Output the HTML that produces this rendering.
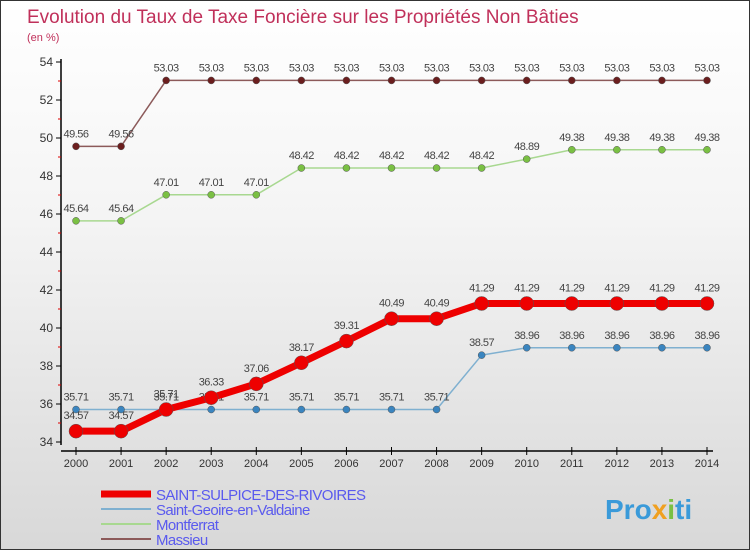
<!DOCTYPE html>
<html><head><meta charset="utf-8"><style>
body{margin:0}
#wrap{width:748px;height:548px;border:1px solid #333;position:relative;background:linear-gradient(#fff 0%,#f4f4f4 40%,#d8d8d8 100%);font-family:"Liberation Sans",sans-serif;overflow:hidden}
svg{position:absolute;left:0;top:0}
</style></head><body>
<div id="wrap">
<svg id="c" width="750" height="550">
<text x="26" y="22" font-size="19" fill="#c0305a">Evolution du Taux de Taxe Foncière sur les Propriétés Non Bâties</text>
<text x="26" y="40" font-size="11" fill="#c0305a">(en %)</text>
<text x="604" y="518" font-size="28" font-weight="bold" fill="#3a9ad9">Pro<tspan fill="#f0a020">x</tspan><tspan fill="#7ac043">i</tspan>ti</text>
</svg>
</div>
<script>
const years=[2000,2001,2002,2003,2004,2005,2006,2007,2008,2009,2010,2011,2012,2013,2014];
const yTicks=[34,36,38,40,42,44,46,48,50,52,54];
const sSulpice=[34.57,34.57,35.71,36.33,37.06,38.17,39.31,40.49,40.49,41.29,41.29,41.29,41.29,41.29,41.29];
const sGeoire=[35.71,35.71,35.71,35.71,35.71,35.71,35.71,35.71,35.71,38.57,38.96,38.96,38.96,38.96,38.96];
const sMontferrat=[45.64,45.64,47.01,47.01,47.01,48.42,48.42,48.42,48.42,48.42,48.89,49.38,49.38,49.38,49.38];
const sMassieu=[49.56,49.56,53.03,53.03,53.03,53.03,53.03,53.03,53.03,53.03,53.03,53.03,53.03,53.03,53.03];
const names=["SAINT-SULPICE-DES-RIVOIRES","Saint-Geoire-en-Valdaine","Montferrat","Massieu"];
const svg=document.getElementById('c');const NS="http://www.w3.org/2000/svg";
function x(i){return 75+i*(706-75)/(years.length-1);}
function y(v){return 441-(v-34)*(441-61)/20;}
function el(t,a,p){const e=document.createElementNS(NS,t);for(const k in a)e.setAttribute(k,a[k]);(p||svg).appendChild(e);return e;}
// axes
let a=el('line',{x1:60,y1:58,x2:60,y2:444,stroke:'#000','stroke-width':1.5});


a=el('line',{x1:60,y1:450,x2:712,y2:450,stroke:'#000','stroke-width':1.5});


yTicks.forEach((v,i)=>{
 el('line',{x1:55,x2:60,y1:y(v),y2:y(v),stroke:'#000'});
 if(i<yTicks.length-1)el('line',{x1:57,x2:60,y1:y(v+1),y2:y(v+1),stroke:'#d00'});
 const t=el('text',{x:52,y:y(v)+4,'font-size':12,fill:'#333','text-anchor':'end'});t.textContent=v;
 
 
});
years.forEach((yr,i)=>{
 el('line',{x1:x(i),x2:x(i),y1:446,y2:454,stroke:'#000'});
 const t=el('text',{x:x(i),y:466,'font-size':11,fill:'#333','text-anchor':'middle'});t.textContent=yr;
 
 
});
function series(data,color,lw,r,dot,name,labOff){
 const g=el('g',{});
 
 
 el('polyline',{points:data.map((v,i)=>x(i)+','+y(v)).join(' '),fill:'none',stroke:color,'stroke-width':lw,'stroke-linejoin':'round'},g);
 data.forEach((v,i)=>{
  const c=el('circle',{cx:x(i),cy:y(v),r:r,fill:dot,stroke:'#555','stroke-width':0.5},g);
  
  
  const t=el('text',{x:x(i),y:y(v)-labOff,'font-size':11,fill:'#444','text-anchor':'middle','letter-spacing':'-0.5'},g);t.textContent=v.toFixed(2).replace(/0$/,'').replace(/\.$/,'');
  
  
 });
}
series(sMassieu,'#8c5a5a',1.5,3.5,'#6b1e1e','series-massieu',9);
series(sMontferrat,'#a8d890',1.5,3.5,'#7ac043','series-montferrat',9);
series(sGeoire,'#7fb0d0',1.5,3.5,'#3a85c0','series-saint-geoire',9);
series(sSulpice,'#ee0000',7,7,'#ee0000','series-saint-sulpice',12);
const legC=['#ee0000','#7fb0d0','#a8d890','#8c5a5a'],legW=[7,2,2,2];
names.forEach((n,i)=>{
 const yy=493+i*15;
 const l=el('line',{x1:100,x2:150,y1:yy,y2:yy,stroke:legC[i],'stroke-width':legW[i]});
 
 
 const t=el('text',{x:155,y:yy+6,'font-size':15,fill:'#5a5aee','letter-spacing':'-0.6'});t.textContent=n;
 
 
});
</script>
</body></html>
